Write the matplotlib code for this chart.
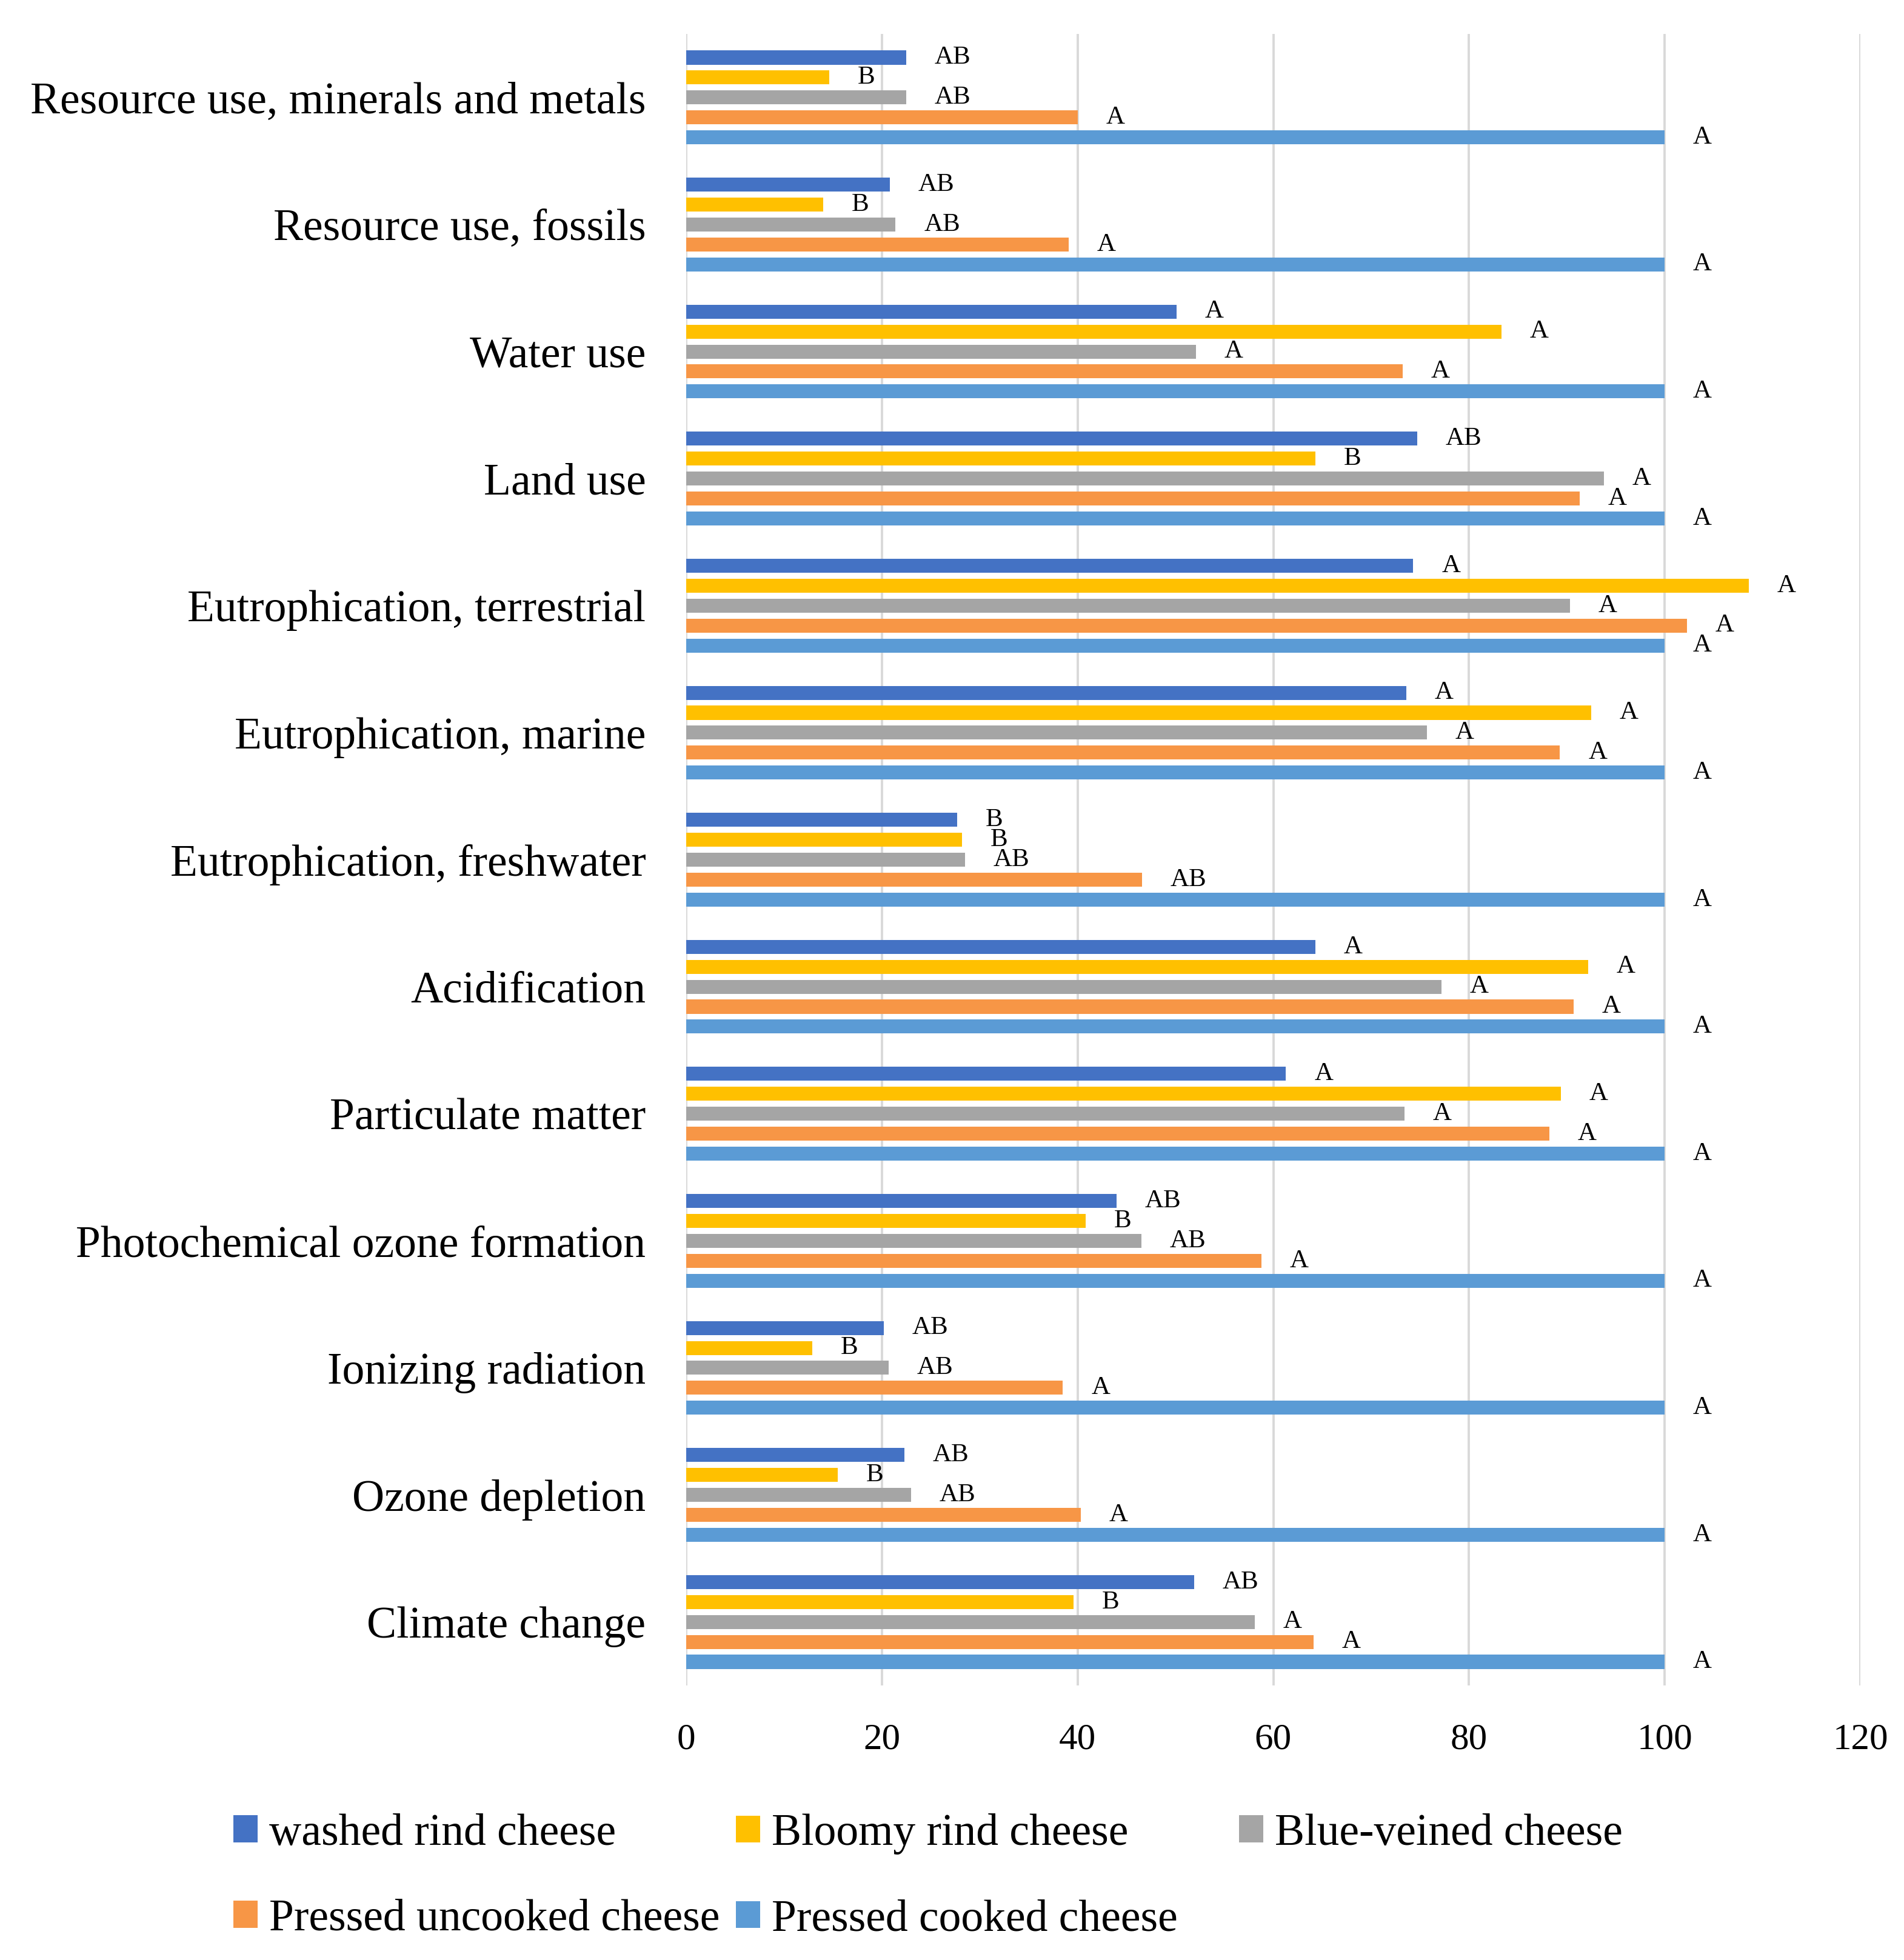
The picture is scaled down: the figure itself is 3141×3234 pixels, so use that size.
import matplotlib
matplotlib.use("Agg")
import matplotlib.pyplot as plt
import numpy as np

plt.rcParams['font.family'] = ['Liberation Serif', 'DejaVu Serif']

categories = [
    "Climate change",
    "Ozone depletion",
    "Ionizing radiation",
    "Photochemical ozone formation",
    "Particulate matter",
    "Acidification",
    "Eutrophication, freshwater",
    "Eutrophication, marine",
    "Eutrophication, terrestrial",
    "Land use",
    "Water use",
    "Resource use, fossils",
    "Resource use, minerals and metals",
]

series_names = ["washed rind cheese", "Bloomy rind cheese", "Blue-veined cheese",
                "Pressed uncooked cheese", "Pressed cooked cheese"]

washed = [51.9, 22.3, 20.2, 44.0, 61.3, 64.3, 27.7, 73.6, 74.3, 74.7, 50.1, 20.8, 22.5]
bloomy = [39.6, 15.5, 12.9, 40.8, 89.4, 92.2, 28.2, 92.5, 108.6, 64.3, 83.3, 14.0, 14.6]
blue_veined = [58.1, 23.0, 20.7, 46.5, 73.4, 77.2, 28.5, 75.7, 90.3, 93.8, 52.1, 21.4, 22.5]
pressed_uncooked = [64.1, 40.3, 38.5, 58.8, 88.2, 90.7, 46.6, 89.3, 102.3, 91.3, 73.2, 39.1, 40.0]
pressed_cooked = [100, 100, 100, 100, 100, 100, 100, 100, 100, 100, 100, 100, 100]

letters_washed = ["AB", "AB", "AB", "AB", "A", "A", "B", "A", "A", "AB", "A", "AB", "AB"]
letters_bloomy = ["B", "B", "B", "B", "A", "A", "B", "A", "A", "B", "A", "B", "B"]
letters_blue = ["A", "AB", "AB", "AB", "A", "A", "AB", "A", "A", "A", "A", "AB", "AB"]
letters_uncooked = ["A", "A", "A", "A", "A", "A", "AB", "A", "A", "A", "A", "A", "A"]
letters_cooked = ["A"] * 13

x_ticks = [0, 20, 40, 60, 80, 100, 120]

colors = ["#4472C4", "#FFC000", "#A5A5A5", "#F79646", "#5B9BD5"]

series = [washed, bloomy, blue_veined, pressed_uncooked, pressed_cooked]
letters = [letters_washed, letters_bloomy, letters_blue, letters_uncooked, letters_cooked]

W, H = 3141, 3234
DPI = 100
fig = plt.figure(figsize=(W / DPI, H / DPI), dpi=DPI)
ax = fig.add_axes([1132 / W, 1 - 2781 / H, (3069 - 1132) / W, (2781 - 56) / H])

y = np.arange(len(categories))
pitch = 0.157
bar_h = 0.11
offsets = [2 * pitch, pitch, 0, -pitch, -2 * pitch]
label_pad = 2.9

handles = []
for vals, labs, col, off, name in zip(series, letters, colors, offsets, series_names):
    bars = ax.barh(y + off, vals, height=bar_h, color=col, label=name, zorder=3)
    handles.append(bars)
    for yi, v, t in zip(y, vals, labs):
        ax.text(v + label_pad, yi + off, t, ha="left", va="center",
                fontsize=31, color="black", zorder=4)

ax.set_xlim(0, 120)
ax.set_ylim(-0.5, len(categories) - 0.5)
ax.set_xticks(x_ticks)
ax.set_xticklabels([str(t) for t in x_ticks], fontsize=44)
ax.set_yticks(y)
ax.set_yticklabels(categories, fontsize=53)
ax.tick_params(axis="y", length=0, pad=48)
ax.tick_params(axis="x", length=0, pad=45)
ax.grid(axis="x", color="#D9D9D9", linewidth=2.8, zorder=0)
ax.set_axisbelow(True)
for s in ax.spines.values():
    s.set_visible(False)

leg_kw = dict(loc="upper left", frameon=False, fontsize=53, borderpad=0,
              borderaxespad=0, handlelength=0.55, handleheight=0.55,
              handletextpad=0.25, labelspacing=1.0)
top_y = 1 - 2992 / H
cols = [[0, 3], [1, 4], [2]]
col_x = [385, 1214, 2044]
for idxs, cx in zip(cols, col_x):
    fig.legend([handles[i] for i in idxs], [series_names[i] for i in idxs],
               bbox_to_anchor=(cx / W, top_y), **leg_kw)

fig.savefig("out.png", dpi=DPI)
